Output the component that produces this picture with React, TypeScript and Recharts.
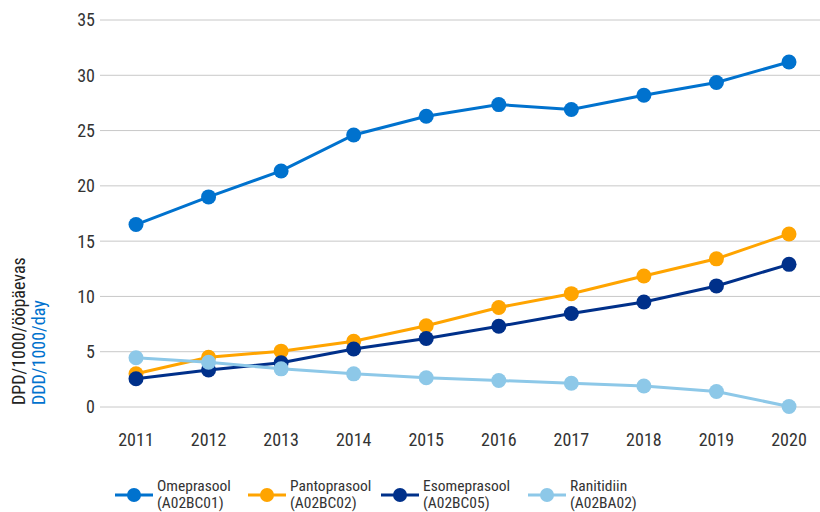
import { LineChart, Line, XAxis, YAxis, CartesianGrid, Legend, Label } from 'recharts';

const years = ['2011', '2012', '2013', '2014', '2015', '2016', '2017', '2018', '2019', '2020'];
const omeprasool = [16.5, 19.0, 21.35, 24.6, 26.3, 27.35, 26.9, 28.2, 29.35, 31.2];
const pantoprasool = [3.0, 4.5, 5.05, 5.95, 7.35, 9.0, 10.25, 11.85, 13.4, 15.65];
const esomeprasool = [2.55, 3.35, 4.0, 5.25, 6.2, 7.3, 8.45, 9.5, 10.95, 12.9];
const ranitidiin = [4.45, 4.05, 3.45, 3.0, 2.65, 2.4, 2.15, 1.9, 1.4, 0.05];
const yTicks = [0, 5, 10, 15, 20, 25, 30, 35];

const FONT = "'Liberation Sans Narrow', 'Roboto Condensed', Roboto, sans-serif";

const SERIES = [
  { key: 'ome', name: 'Omeprasool', code: '(A02BC01)', color: '#0072ce', values: omeprasool },
  { key: 'panto', name: 'Pantoprasool', code: '(A02BC02)', color: '#ffa400', values: pantoprasool },
  { key: 'eso', name: 'Esomeprasool', code: '(A02BC05)', color: '#00308a', values: esomeprasool },
  { key: 'rani', name: 'Ranitidiin', code: '(A02BA02)', color: '#8dc8e8', values: ranitidiin },
];

// legend item widths, so the markers land where they do in the original
const LEGEND_WIDTHS = [133, 133, 147, 160];

const data = years.map((year, i) => {
  const row: Record<string, string | number> = { year };
  SERIES.forEach(s => { row[s.key] = s.values[i]; });
  return row;
});

function YTitle() {
  return (
    <g fontFamily={FONT} fontSize={18}>
      <text transform="translate(25, 405) rotate(-90)" fill="#222">DPD/1000/ööpäevas</text>
      <text transform="translate(45, 405) rotate(-90)" fill="#0072ce">DDD/1000/day</text>
    </g>
  );
}

function LegendContent() {
  return (
    <div style={{ display: 'flex', paddingLeft: 115, height: 34, fontFamily: FONT, fontSize: 15.5, color: '#333', lineHeight: '17px' }}>
      {SERIES.map((s, i) => (
        <div key={s.key} style={{ display: 'flex', alignItems: 'center', width: LEGEND_WIDTHS[i] }}>
          <svg width={38} height={18} style={{ marginRight: 4, flexShrink: 0 }}>
            <line x1={0} y1={9} x2={38} y2={9} stroke={s.color} strokeWidth={3} />
            <circle cx={19} cy={9} r={7} fill={s.color} />
          </svg>
          <div>
            <div>{s.name}</div>
            <div>{s.code}</div>
          </div>
        </div>
      ))}
    </div>
  );
}

export default function App() {
  return (
    <div style={{ position: 'absolute', left: 0, top: 0, background: '#fff' }}>
      <LineChart width={820} height={512} data={data} margin={{ top: 20, right: 0, left: 0, bottom: 0 }}>
        <CartesianGrid vertical={false} stroke="#c8c8c8" />
        <XAxis
          dataKey="year"
          axisLine={false}
          tickLine={false}
          tickSize={6}
          tickMargin={20}
          height={71}
          padding={{ left: 36, right: 31 }}
          tick={{ fill: '#333', fontSize: 18, fontFamily: FONT }}
        />
        <YAxis
          domain={[0, 35]}
          ticks={yTicks}
          width={100}
          axisLine={false}
          tickLine={false}
          tickSize={3}
          tickMargin={2}
          tick={{ fill: '#333', fontSize: 18, fontFamily: FONT }}
        >
          <Label content={() => <YTitle />} />
        </YAxis>
        <Legend verticalAlign="bottom" align="left" content={() => <LegendContent />} />
        {SERIES.map(s => (
          <Line
            key={s.key}
            dataKey={s.key}
            name={s.name}
            stroke={s.color}
            strokeWidth={3}
            dot={{ r: 7.5, fill: s.color, stroke: s.color, strokeWidth: 0 }}
            activeDot={false}
            isAnimationActive={false}
          />
        ))}
      </LineChart>
    </div>
  );
}
